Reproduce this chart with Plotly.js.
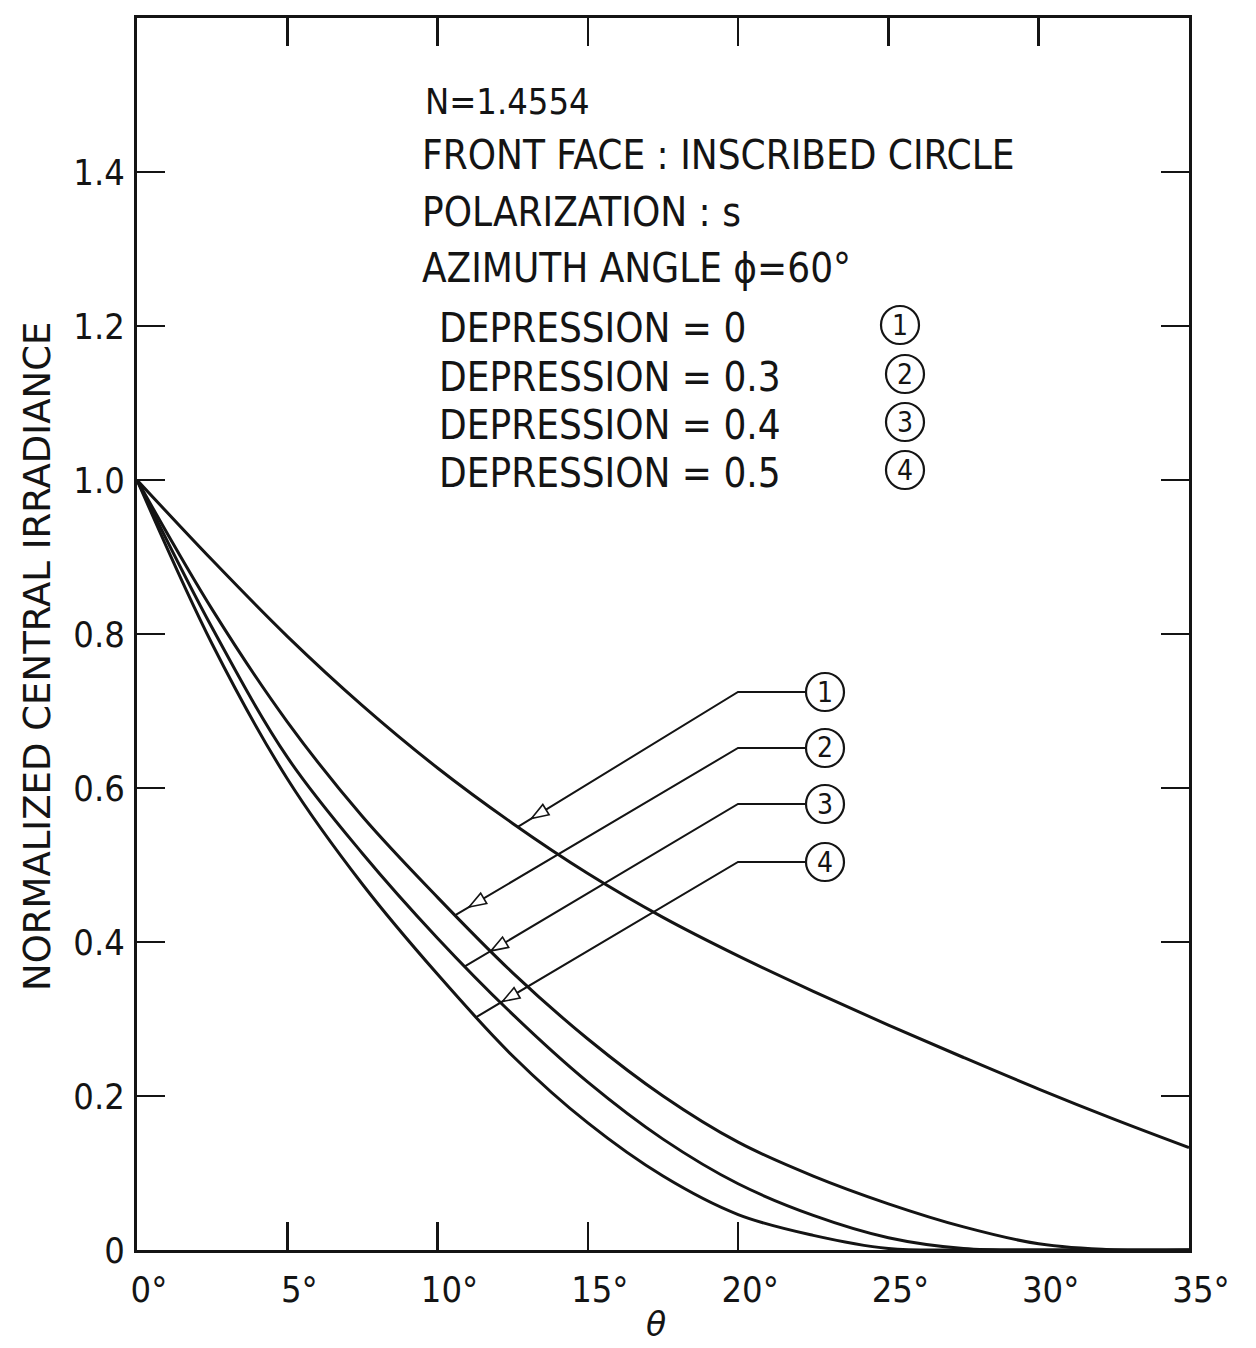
<!DOCTYPE html>
<html>
<head>
<meta charset="utf-8">
<script src="https://cdn.plot.ly/plotly-3.0.1.min.js"></script>
<style>
  html, body { margin: 0; padding: 0; background: #fff; }
  #chart { width: 1256px; height: 1348px; }
</style>
</head>
<body>
<div id="chart"></div>
<script>
// Incidence angle θ (degrees) and normalized central irradiance per depression
const theta  = [0, 2.5, 5, 7.5, 10, 12.5, 15, 17.5, 20, 22.5, 25, 27.5, 30, 32.5, 35];
const dep00  = [1.0, 0.896, 0.797, 0.707, 0.626, 0.554, 0.489, 0.432, 0.382, 0.336, 0.292, 0.250, 0.209, 0.170, 0.133];
const dep03  = [1.0, 0.832, 0.686, 0.563, 0.458, 0.360, 0.274, 0.200, 0.140, 0.096, 0.060, 0.030, 0.008, 0.0, 0.0];
const dep04  = [1.0, 0.808, 0.640, 0.515, 0.405, 0.306, 0.218, 0.144, 0.086, 0.045, 0.016, 0.002, 0.0, 0.0, 0.0];
const dep05  = [1.0, 0.787, 0.612, 0.475, 0.358, 0.252, 0.165, 0.096, 0.046, 0.019, 0.002, 0.0, 0.0, 0.0, 0.0];

const curveLabels = ['1', '2', '3', '4'];
const depressionText = ['0', '0.3', '0.4', '0.5'];

const xTickVals = [0, 5, 10, 15, 20, 25, 30, 35];
const xTickText = ['0°', '5°', '10°', '15°', '20°', '25°', '30°', '35°'];
const xTopTicks = [5, 10, 15, 20, 25, 30];
const xBottomTicks = [5, 10, 15, 20];
const yTickVals = [0, 0.2, 0.4, 0.6, 0.8, 1.0, 1.2, 1.4];
const yTickText = ['0', '0.2', '0.4', '0.6', '0.8', '1.0', '1.2', '1.4'];

// angle along each curve where its leader arrow lands
const leaderTheta = [12.67, 10.59, 10.92, 11.3];

// ---- layout geometry -------------------------------------------------
const FIG_W = 1256, FIG_H = 1348;
const M = { l: 137, r: 67, t: 18, b: 98 };
const PW = FIG_W - M.l - M.r;          // plot width in px
const PH = FIG_H - M.t - M.b;          // plot height in px
const X_MAX = 35, Y_MAX = 1.6;

const px2paperX = px => (px - M.l) / PW;
const py2paperY = py => (M.t + PH - py) / PH;
const data2px = (x, y) => [M.l + x / X_MAX * PW, M.t + PH - y / Y_MAX * PH];
const px2data = (px, py) => [(px - M.l) / PW * X_MAX, (M.t + PH - py) / PH * Y_MAX];

function interp(xs, ys, x) {
  for (let i = 0; i < xs.length - 1; i++) {
    if (x >= xs[i] && x <= xs[i + 1]) {
      const t = (x - xs[i]) / (xs[i + 1] - xs[i]);
      return ys[i] + t * (ys[i + 1] - ys[i]);
    }
  }
  return ys[ys.length - 1];
}

const INK = '#141414';
const CF = 'DejaVu Sans Condensed, DejaVu Sans, sans-serif';

const series = [dep00, dep03, dep04, dep05];
const traces = series.map((ys, i) => ({
  type: 'scatter',
  mode: 'lines',
  x: theta,
  y: ys,
  name: 'DEPRESSION = ' + depressionText[i],
  line: { color: INK, width: 3, shape: 'spline', smoothing: 1.0 },
  hoverinfo: 'skip',
  showlegend: false
}));
// empty traces so the top-edge and bottom-tick axes get drawn
['x2', 'x3'].forEach(ax => traces.push({
  type: 'scatter', mode: 'lines', x: [], y: [], xaxis: ax, yaxis: 'y',
  hoverinfo: 'skip', showlegend: false
}));

const shapes = [];
const annotations = [];

// ---- text block ----------------------------------------------------
const block = [
  { t: 'N=1.4554', x: 423, y: 101, s: 36 },
  { t: 'FRONT FACE : INSCRIBED CIRCLE', x: 420, y: 155, s: 40 },
  { t: 'POLARIZATION : s', x: 420, y: 212, s: 40 },
  { t: 'AZIMUTH ANGLE ϕ=60°', x: 420, y: 268, s: 40 }
];
block.forEach(b => annotations.push({
  xref: 'paper', yref: 'paper', x: px2paperX(b.x), y: py2paperY(b.y),
  xanchor: 'left', yanchor: 'middle', showarrow: false, text: b.t,
  font: { family: CF, size: b.s, color: INK }
}));

const depRowsY = [328, 377, 425, 473];
const depCircleX = [900, 905, 905, 905];
depressionText.forEach((d, i) => {
  annotations.push({
    xref: 'paper', yref: 'paper', x: px2paperX(437), y: py2paperY(depRowsY[i]),
    xanchor: 'left', yanchor: 'middle', showarrow: false,
    text: 'DEPRESSION = ' + d,
    font: { family: CF, size: 40, color: INK }
  });
});

function circledLabel(cx, cy, label) {
  shapes.push({
    type: 'circle', xref: 'paper', yref: 'paper',
    xsizemode: 'pixel', ysizemode: 'pixel',
    xanchor: px2paperX(cx), yanchor: py2paperY(cy),
    x0: -19, x1: 19, y0: -19, y1: 19,
    line: { color: INK, width: 2.2 }
  });
  annotations.push({
    xref: 'paper', yref: 'paper', x: px2paperX(cx), y: py2paperY(cy),
    xanchor: 'center', yanchor: 'middle', showarrow: false, text: label,
    font: { family: CF, size: 28, color: INK }
  });
}
curveLabels.forEach((lab, i) => circledLabel(depCircleX[i], depRowsY[i] - 3, lab));

// ---- leader lines with open arrowheads ----------------------------
const leaderRowY = [692, 748, 804, 862];
const leaderElbowX = 738, leaderCircleX = 825;
const arrowBack = [16, 16, 30, 30];
series.forEach((ys, i) => {
  const tipVal = interp(theta, ys, leaderTheta[i]);
  const [tx, ty] = data2px(leaderTheta[i], tipVal);
  const ex = leaderElbowX, ey = leaderRowY[i];
  const [eX, eY] = px2data(ex, ey);
  const [cX] = px2data(leaderCircleX - 19, ey);
  // diagonal + horizontal run
  shapes.push({
    type: 'path', xref: 'x', yref: 'y',
    path: `M ${leaderTheta[i]} ${tipVal} L ${eX} ${eY} L ${cX} ${eY}`,
    line: { color: INK, width: 2 }
  });
  // hollow arrowhead pointing back toward the curve
  const len = Math.hypot(ex - tx, ey - ty);
  const ux = (ex - tx) / len, uy = (ey - ty) / len;
  const ax = tx + ux * arrowBack[i], ay = ty + uy * arrowBack[i];
  const bx = ax + ux * 17, by = ay + uy * 17;
  const nx = -uy, ny = ux;
  const p1 = px2data(ax, ay);
  const p2 = px2data(bx + nx * 6, by + ny * 6);
  const p3 = px2data(bx - nx * 6, by - ny * 6);
  shapes.push({
    type: 'path', xref: 'x', yref: 'y',
    path: `M ${p1[0]} ${p1[1]} L ${p2[0]} ${p2[1]} L ${p3[0]} ${p3[1]} Z`,
    fillcolor: '#ffffff',
    line: { color: INK, width: 1.6 }
  });
  circledLabel(leaderCircleX, ey, curveLabels[i]);
});

// ---- axis titles ---------------------------------------------------
annotations.push({
  xref: 'paper', yref: 'paper', x: px2paperX(37), y: py2paperY(657),
  xanchor: 'center', yanchor: 'middle', showarrow: false, textangle: -90,
  text: 'NORMALIZED CENTRAL IRRADIANCE',
  font: { family: 'DejaVu Sans, sans-serif', size: 37, color: INK }
});
annotations.push({
  xref: 'paper', yref: 'paper', x: px2paperX(656), y: py2paperY(1324),
  xanchor: 'center', yanchor: 'middle', showarrow: false,
  text: 'θ',
  font: { family: 'DejaVu Sans, sans-serif', size: 33, color: INK, style: 'italic' }
});

const frame = {
  linecolor: INK, linewidth: 3,
  tickcolor: INK, tickwidth: 2.5, ticklen: 28,
  showgrid: false, zeroline: false, fixedrange: true
};

const layout = {
  width: FIG_W, height: FIG_H,
  margin: M,
  paper_bgcolor: '#ffffff', plot_bgcolor: '#ffffff',
  showlegend: false,
  // bottom axis: labels and frame line
  xaxis: Object.assign({}, frame, {
    range: [0, X_MAX], showline: true, mirror: false, ticks: '',
    tickmode: 'array', tickvals: xTickVals, ticktext: xTickText,
    ticklabelshift: 12, ticklabelstandoff: 6,
    tickfont: { family: CF, size: 36, color: INK }
  }),
  // top edge with its inward ticks
  xaxis2: Object.assign({}, frame, {
    range: [0, X_MAX], overlaying: 'x', anchor: 'y', side: 'top',
    showline: true, ticks: 'inside', showticklabels: false,
    tickmode: 'array', tickvals: xTopTicks
  }),
  // inward ticks along the bottom edge
  xaxis3: Object.assign({}, frame, {
    range: [0, X_MAX], overlaying: 'x', anchor: 'y', side: 'bottom',
    showline: false, ticks: 'inside', showticklabels: false,
    tickmode: 'array', tickvals: xBottomTicks
  }),
  yaxis: Object.assign({}, frame, {
    range: [0, Y_MAX], showline: true, mirror: 'ticks', ticks: 'inside',
    tickmode: 'array', tickvals: yTickVals, ticktext: yTickText,
    ticklabelstandoff: 2,
    tickfont: { family: CF, size: 36, color: INK }
  }),
  shapes: shapes,
  annotations: annotations
};

Plotly.newPlot('chart', traces, layout, { staticPlot: true, displayModeBar: false });
</script>
</body>
</html>
